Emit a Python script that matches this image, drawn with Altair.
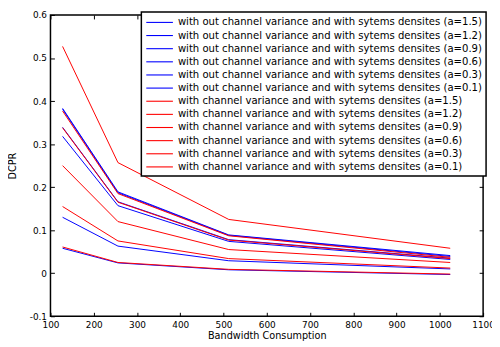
import altair as alt
import pandas as pd

bandwidth = [128, 256, 512, 1024]

labels = [
    "with out channel variance and with sytems densites (a=1.5)",
    "with out channel variance and with sytems densites (a=1.2)",
    "with out channel variance and with sytems densites (a=0.9)",
    "with out channel variance and with sytems densites (a=0.6)",
    "with out channel variance and with sytems densites (a=0.3)",
    "with out channel variance and with sytems densites (a=0.1)",
    "with channel variance and with sytems densites (a=1.5)",
    "with channel variance and with sytems densites (a=1.2)",
    "with channel variance and with sytems densites (a=0.9)",
    "with channel variance and with sytems densites (a=0.6)",
    "with channel variance and with sytems densites (a=0.3)",
    "with channel variance and with sytems densites (a=0.1)",
]
colors = ["#0000FF"] * 6 + ["#FF0000"] * 6

# without channel variance (blue)
wo_15 = [0.383, 0.189, 0.089, 0.041]
wo_12 = [0.381, 0.187, 0.088, 0.039]
wo_09 = [0.339, 0.166, 0.078, 0.035]
wo_06 = [0.318, 0.157, 0.074, 0.032]
wo_03 = [0.130, 0.063, 0.029, 0.010]
wo_01 = [0.058, 0.024, 0.008, -0.003]
# with channel variance (red)
w_15 = [0.527, 0.257, 0.125, 0.058]
w_12 = [0.377, 0.185, 0.087, 0.037]
w_09 = [0.338, 0.165, 0.077, 0.034]
w_06 = [0.250, 0.120, 0.055, 0.025]
w_03 = [0.155, 0.075, 0.034, 0.012]
w_01 = [0.061, 0.025, 0.009, -0.002]

series_values = [wo_15, wo_12, wo_09, wo_06, wo_03, wo_01,
                 w_15, w_12, w_09, w_06, w_03, w_01]

x_ticks = [100, 200, 300, 400, 500, 600, 700, 800, 900, 1000, 1100]
y_ticks = [-0.1, 0, 0.1, 0.2, 0.3, 0.4, 0.5, 0.6]

rows = []
for lab, vals in zip(labels, series_values):
    for bw, v in zip(bandwidth, vals):
        rows.append({"series": lab, "bw": bw, "dcpr": v})
df = pd.DataFrame(rows)

FONT = "DejaVu Sans"
xscale = alt.Scale(domain=[100, 1100], nice=False, zero=False)
yscale = alt.Scale(domain=[-0.1, 0.6], nice=False, zero=False)

common_axis = dict(offset=-4, tickSize=4, domain=False, grid=False,
                   tickColor="black", labelColor="black", titleColor="black",
                   labelFont=FONT, titleFont=FONT, labelFontSize=9,
                   titleFontSize=9.8, titleFontWeight="normal", labelPadding=4)

lines = alt.Chart(df).mark_line(strokeWidth=1).encode(
    x=alt.X("bw:Q", scale=xscale,
            axis=alt.Axis(values=x_ticks, title="Bandwidth Consumption",
                          format="d", titlePadding=2, labelFlush=False,
                          **common_axis)),
    y=alt.Y("dcpr:Q", scale=yscale,
            axis=alt.Axis(values=y_ticks, title="DCPR", titlePadding=12,
                          labelExpr="datum.value < 0 ? '-' + format(-datum.value, '~g') : format(datum.value, '~g')",
                          **common_axis)),
    color=alt.Color("series:N", title=None,
                    scale=alt.Scale(domain=labels, range=colors),
                    legend=alt.Legend(orient="none", legendX=92, legendY=-3,
                                      symbolType="M-1,0H3.9", symbolSize=121,
                                      symbolStrokeWidth=1.1, labelFont=FONT,
                                      labelFontSize=10.2, labelLimit=500,
                                      labelColor="black", labelOffset=20,
                                      rowPadding=1.3, padding=4,
                                      strokeColor="black", fillColor="white")),
)

frame = alt.Chart(df).mark_point(opacity=0).encode(
    x=alt.X("bw:Q", scale=xscale,
            axis=alt.Axis(orient="top", values=x_ticks, labels=False, title=None,
                          offset=-4, tickSize=4, domain=False, grid=False,
                          tickColor="black")),
    y=alt.Y("dcpr:Q", scale=yscale,
            axis=alt.Axis(orient="right", values=y_ticks, labels=False, title=None,
                          offset=-4, tickSize=4, domain=False, grid=False,
                          tickColor="black")),
)

chart = alt.layer(lines, frame).resolve_axis(
    x="independent", y="independent"
).properties(
    width=438, height=305,
    padding={"left": 43, "top": 5, "right": 9, "bottom": 27},
    autosize=alt.AutoSizeParams(type="none"),
    background="white",
).configure_view(
    stroke="black", strokeWidth=1.5
).configure_legend(strokeWidth=1.5)

chart.save("out.html", embed_options={"renderer": "svg", "actions": False})
